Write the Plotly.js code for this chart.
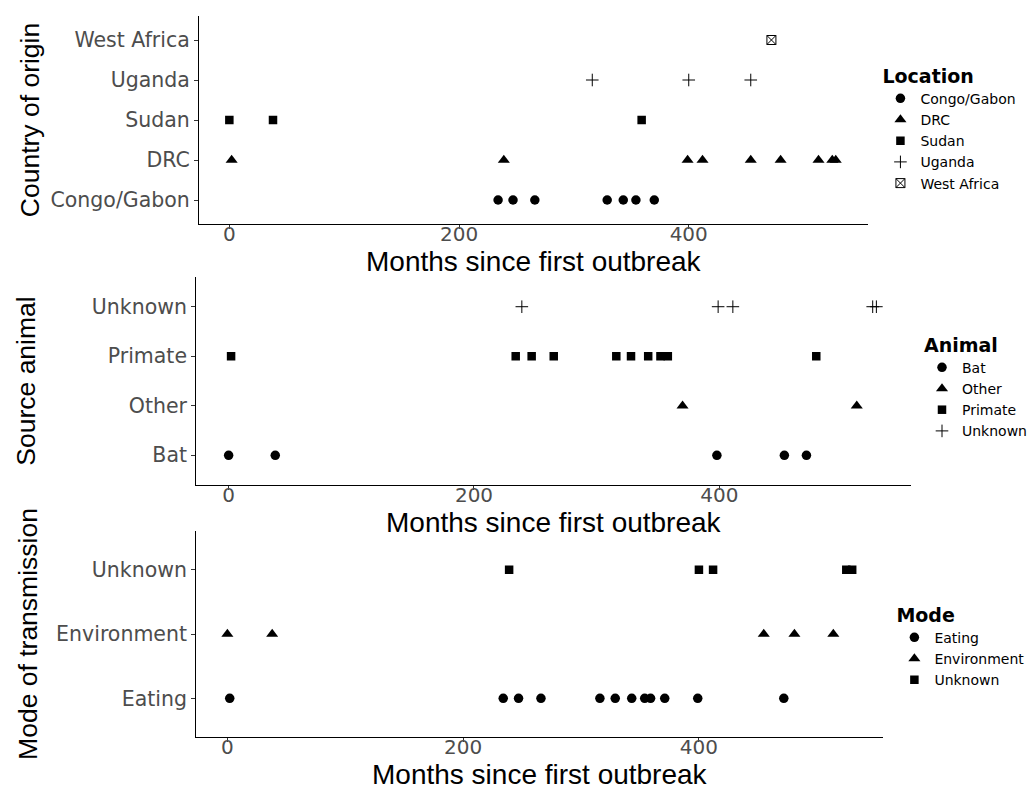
<!DOCTYPE html>
<html>
<head>
<meta charset="utf-8">
<script src="https://cdn.plot.ly/plotly-3.0.1.min.js"></script>
<style>
  html, body { margin: 0; padding: 0; background: #ffffff; }
  #chart { width: 1032px; height: 789px; }
</style>
</head>
<body>
<div id="chart"></div>
<script>
// ---------------- DATA (months since first outbreak) ----------------
// Panel 1 : Country of origin
const locCategories = ['Congo/Gabon', 'DRC', 'Sudan', 'Uganda', 'West Africa'];
const locCongoGabon = [234, 247, 266, 329, 343, 354, 370];
const locDRC        = [2, 239, 399, 412, 454, 480, 513, 525, 528];
const locSudan      = [0, 38, 359];
const locUganda     = [316, 400, 454];
const locWestAfrica = [472];

// Panel 2 : Source animal
const aniCategories = ['Bat', 'Other', 'Primate', 'Unknown'];
const aniBat     = [0, 38, 398, 453, 471];
const aniOther   = [370, 512];
const aniPrimate = [2, 234, 247, 265, 316, 328, 342, 352, 358, 479];
const aniUnknown = [239, 399, 411, 525, 528];

// Panel 3 : Mode of transmission
const modeCategories  = ['Eating', 'Environment', 'Unknown'];
const modeEating      = [2, 234, 247, 266, 316, 329, 343, 354, 359, 371, 399, 472];
const modeEnvironment = [0, 38, 455, 481, 514];
const modeUnknown     = [239, 400, 412, 525, 530];

const xTickVals = [0, 200, 400];
const xTitle = 'Months since first outbreak';
const yTitles = ['Country of origin', 'Source animal', 'Mode of transmission'];
const legendTitles = ['Location', 'Animal', 'Mode'];

// ---------------- STYLE ----------------
const TICK_FONT   = {family: 'DejaVu Sans', size: 20.5, color: '#4D4D4D'};
const XTICK_FONT  = {family: 'DejaVu Sans', size: 20, color: '#4D4D4D'};
const XTITLE_FONT = {family: 'Liberation Sans, Arial', size: 28, color: '#000000'};
const YTITLE_FONT = {family: 'Liberation Sans, Arial', size: 26.5, color: '#000000'};
const LEG_FONT    = {family: 'DejaVu Sans', size: 14, color: '#000000'};
const LEG_TITLE   = {family: 'DejaVu Sans', size: 19, color: '#000000', weight: 'bold'};

const SYM = {
  circle:   {symbol: 'circle', size: 9.5, color: '#000000'},
  triangle: {symbol: 'triangle-up', size: 10.5, color: '#000000'},
  square:   {symbol: 'square', size: 8.5, color: '#000000'},
  plus:     {symbol: 'cross-thin-open', size: 9, color: '#000000', line: {width: 1, color: '#333333'}},
  boxx:     {symbol: 'square-x-open', size: 9, color: '#000000', line: {width: 1, color: '#333333'}}
};

function pts(xs, cat, name, sym, xa, ya, leg) {
  return {
    type: 'scatter', mode: 'markers',
    x: xs, y: xs.map(() => cat),
    name: name, legend: leg,
    xaxis: xa, yaxis: ya,
    marker: Object.assign({}, sym),
    hoverinfo: 'x+y'
  };
}

const traces = [
  pts(locCongoGabon, locCategories[0], 'Congo/Gabon', SYM.circle,   'x',  'y',  'legend'),
  pts(locDRC,        locCategories[1], 'DRC',         SYM.triangle, 'x',  'y',  'legend'),
  pts(locSudan,      locCategories[2], 'Sudan',       SYM.square,   'x',  'y',  'legend'),
  pts(locUganda,     locCategories[3], 'Uganda',      SYM.plus,     'x',  'y',  'legend'),
  pts(locWestAfrica, locCategories[4], 'West Africa', SYM.boxx,     'x',  'y',  'legend'),

  pts(aniBat,     aniCategories[0], 'Bat',     SYM.circle,   'x2', 'y2', 'legend2'),
  pts(aniOther,   aniCategories[1], 'Other',   SYM.triangle, 'x2', 'y2', 'legend2'),
  pts(aniPrimate, aniCategories[2], 'Primate', SYM.square,   'x2', 'y2', 'legend2'),
  pts(aniUnknown, aniCategories[3], 'Unknown', SYM.plus,     'x2', 'y2', 'legend2'),

  pts(modeEating,      modeCategories[0], 'Eating',      SYM.circle,   'x3', 'y3', 'legend3'),
  pts(modeEnvironment, modeCategories[1], 'Environment', SYM.triangle, 'x3', 'y3', 'legend3'),
  pts(modeUnknown,     modeCategories[2], 'Unknown',     SYM.square,   'x3', 'y3', 'legend3')
];

const W = 1032, H = 789;
function px(a, b) { return [a / W, b / W]; }
function py(top, bottom) { return [1 - bottom / H, 1 - top / H]; }

function xAxis(domain, anchor) {
  return {
    domain: domain, anchor: anchor,
    range: [-26.5, 556.5], tickvals: xTickVals, ticktext: xTickVals.map(String),
    showgrid: false, zeroline: false,
    showline: true, linecolor: '#000000', linewidth: 1,
    ticks: 'outside', ticklen: 4, tickwidth: 1, tickcolor: '#333333',
    ticklabelstandoff: -12,
    tickfont: XTICK_FONT
  };
}
function yAxis(domain, anchor, cats, title, standoff) {
  return {
    domain: domain, anchor: anchor,
    type: 'category', categoryorder: 'array', categoryarray: cats,
    range: [-0.6, cats.length - 0.4],
    showgrid: false, zeroline: false,
    showline: true, linecolor: '#000000', linewidth: 1,
    ticks: 'outside', ticklen: 4, tickwidth: 1, tickcolor: '#333333',
    tickfont: TICK_FONT,
    title: {text: title, font: YTITLE_FONT, standoff: standoff}
  };
}
function xTitleAnn(xref, yPix) {
  return {
    text: xTitle, xref: xref, x: 0.5, yref: 'paper', y: 1 - yPix / H,
    xanchor: 'center', yanchor: 'middle', showarrow: false, font: XTITLE_FONT
  };
}
function legendCfg(x, yTop, title) {
  return {
    x: x / W, y: 1 - yTop / H, xanchor: 'left', yanchor: 'top',
    title: {text: title, font: LEG_TITLE}, font: LEG_FONT,
    bgcolor: 'rgba(0,0,0,0)', borderwidth: 0, itemwidth: 30, tracegroupgap: 0
  };
}

const layout = {
  width: W, height: H,
  margin: {l: 0, r: 0, t: 0, b: 0},
  paper_bgcolor: '#ffffff', plot_bgcolor: '#ffffff',
  font: {family: 'DejaVu Sans', color: '#000000'},
  showlegend: true,
  xaxis:  xAxis(px(199.5, 871), 'y'),
  yaxis:  yAxis(py(16, 224), 'x', locCategories, yTitles[0], 3),
  xaxis2: xAxis(px(196.7, 914), 'y2'),
  yaxis2: yAxis(py(277, 485), 'x2', aniCategories, yTitles[1], 48),
  xaxis3: xAxis(px(196.7, 886), 'y3'),
  yaxis3: yAxis(py(531, 737), 'x3', modeCategories, yTitles[2], 10),
  annotations: [
    xTitleAnn('x domain', 261),
    xTitleAnn('x2 domain', 522),
    xTitleAnn('x3 domain', 774.5)
  ],
  legend:  legendCfg(883, 58, legendTitles[0]),
  legend2: legendCfg(925, 327, legendTitles[1]),
  legend3: legendCfg(897, 597, legendTitles[2])
};

Plotly.newPlot('chart', traces, layout, {staticPlot: true, displayModeBar: false});
</script>
</body>
</html>
